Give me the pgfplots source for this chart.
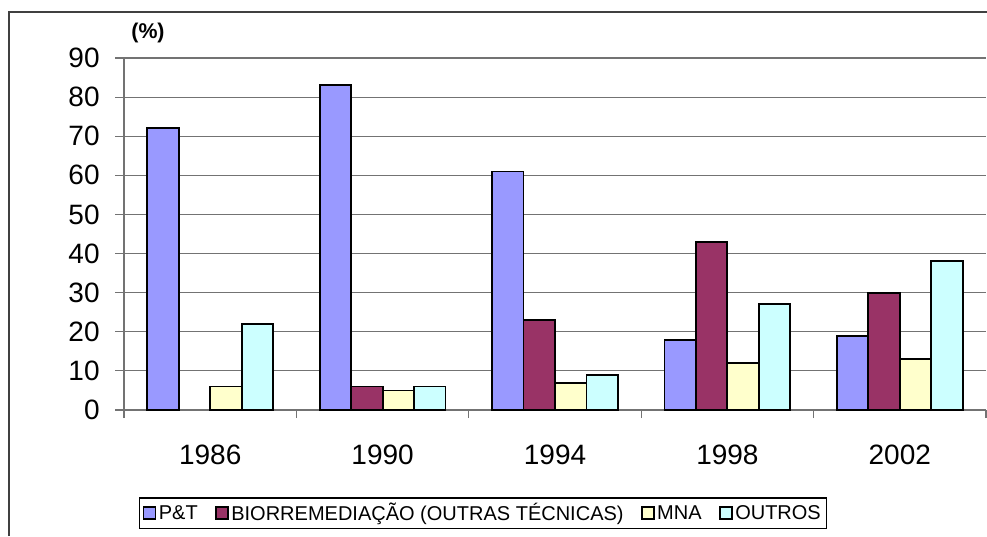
\documentclass[border=0pt]{standalone}
\usepackage{fontspec}
\setmainfont{Liberation Sans}
\usepackage{pgfplots}
\pgfplotsset{compat=1.18}
\definecolor{cPT}{HTML}{9999FF}
\definecolor{cBio}{HTML}{993366}
\definecolor{cMNA}{HTML}{FFFFCC}
\definecolor{cOut}{HTML}{CCFFFF}
\begin{document}
\begin{tikzpicture}[x=0.75pt,y=0.75pt]
\useasboundingbox (0,0) rectangle (987,536);
% moldura do grafico
\draw[line width=0.9pt, black!75] (9,0) -- (9,524) -- (987,524);
\node[font=\bfseries\fontsize{16}{18}\selectfont] at (148,503) {(\%)};
\begin{axis}[
    at={(93pt,94.5pt)}, anchor=south west,
    scale only axis,
    width=646.5pt, height=264pt,
    xmin=-0.5, xmax=4.5,
    ymin=0, ymax=90,
    ytick={0,10,...,90},
    xtick={0,...,4},
    xticklabels={1986,1990,1994,1998,2002},
    minor xtick={-0.5,0.5,...,4.5},
    major x tick style={draw=none},
    axis x line=bottom, axis y line=left,
    axis line style={-, black!55, line width=0.8pt},
    tick align=outside,
    major tick length=6.75pt, minor tick length=6pt,
    tick style={black!55, line width=0.8pt},
    ymajorgrids, grid style={black!55, line width=0.8pt},
    /pgf/number format/assume math mode=true,
    ticklabel style={font=\fontsize{21}{24}\selectfont},
    yticklabel style={xshift=-8pt},
    xticklabel style={yshift=-16pt},
    ybar=0pt, bar width=23.6pt,
    every axis plot/.append style={draw=black, line width=1.4pt},
    legend columns=4,
    legend style={at={(axis description cs:0.4165,-0.293)}, anchor=center,
        draw=black, line width=0.8pt, font=\fontsize{15}{17}\selectfont,
        inner xsep=2pt, inner ysep=2pt,
        /tikz/every even column/.append style={column sep=11pt}},
    legend image code/.code={\draw[#1, draw=black, line width=1.2pt] (0pt,-4.5pt) rectangle (9pt,4.5pt);},
    clip=false,
]
\addplot[fill=cPT] coordinates {(0,72) (1,83) (2,61) (3,18) (4,19)};
\addplot[fill=cBio] coordinates {(1,6) (2,23) (3,43) (4,30)};
\addplot[fill=cMNA] coordinates {(0,6) (1,5) (2,7) (3,12) (4,13)};
\addplot[fill=cOut] coordinates {(0,22) (1,6) (2,9) (3,27) (4,38)};
\legend{P\&T, BIORREMEDIAÇÃO (OUTRAS TÉCNICAS), MNA, OUTROS}
\end{axis}
\end{tikzpicture}
\end{document}
